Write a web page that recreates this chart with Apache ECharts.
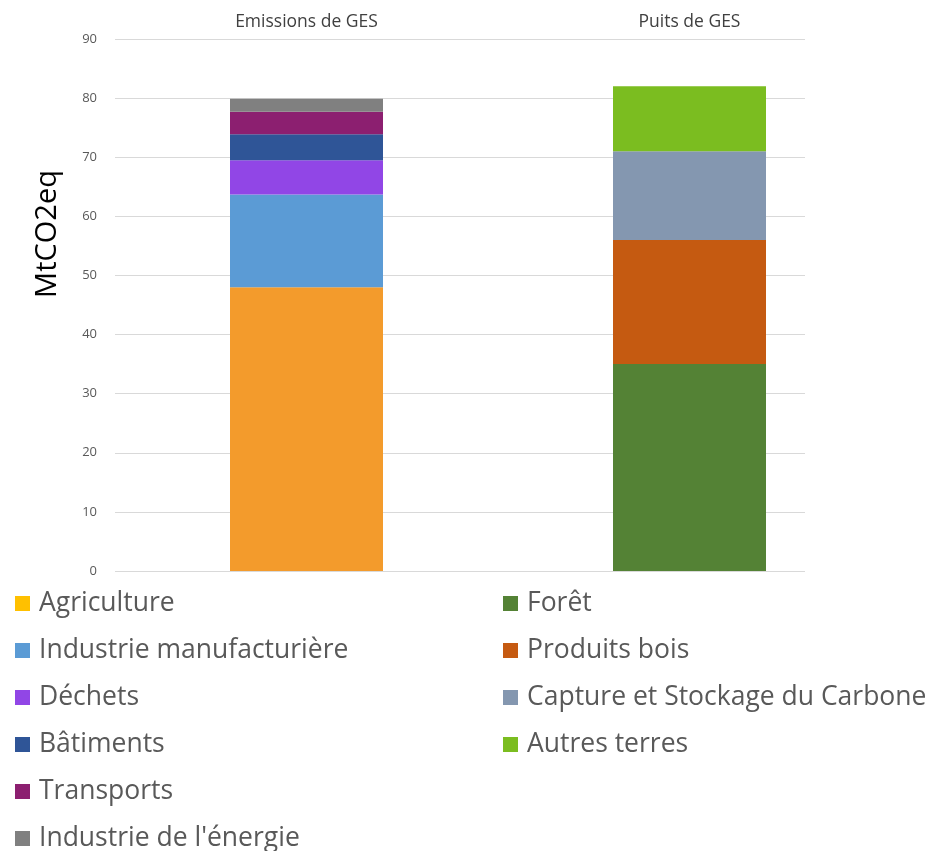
<!DOCTYPE html>
<html>
<head>
<meta charset="utf-8">
<script src="https://cdn.jsdelivr.net/npm/echarts@6/dist/echarts.min.js"></script>
<style>html,body{margin:0;padding:0;background:#fff;}#c{width:935px;height:851px;}</style>
</head>
<body>
<div id="c"></div>
<script>
const categories = ['Emissions de GES', 'Puits de GES'];
const yTicks = [0, 10, 20, 30, 40, 50, 60, 70, 80, 90];
const yAxisTitle = 'MtCO2eq';

const emissionNames = ['Agriculture', 'Industrie manufacturière', 'Déchets', 'Bâtiments', 'Transports', "Industrie de l'énergie"];
const emissionValues = [48, 15.7, 5.8, 4.4, 3.8, 2.2];
const emissionColors = ['#F39B2C', '#5B9BD5', '#9146E6', '#2F5597', '#8C1F70', '#808080'];
const emissionLegendColors = ['#FFC000', '#5B9BD5', '#9146E6', '#2F5597', '#8C1F70', '#808080'];

const sinkNames = ['Forêt', 'Produits bois', 'Capture et Stockage du Carbone', 'Autres terres'];
const sinkValues = [35, 21, 15, 11];
const sinkColors = ['#548235', '#C55A11', '#8497B0', '#7BBD20'];

const series = [];
emissionNames.forEach((n, i) => series.push({
  name: n, type: 'bar', stack: 'total', xAxisIndex: 0, yAxisIndex: 0, barWidth: 153,
  itemStyle: { color: emissionColors[i] }, data: [emissionValues[i], '-']
}));
sinkNames.forEach((n, i) => series.push({
  name: n, type: 'bar', stack: 'total', xAxisIndex: 0, yAxisIndex: 0, barWidth: 153,
  itemStyle: { color: sinkColors[i] }, data: ['-', sinkValues[i]]
}));

const legendText = { fontSize: 26.5, color: '#595959', fontFamily: 'Open Sans', lineHeight: 25, padding: [0, 0, 0, 4] };

const chart = echarts.init(document.getElementById('c'), null, { renderer: 'canvas' });
chart.setOption({
  backgroundColor: '#ffffff',
  animation: false,
  grid: [
    { left: 115, top: 39, width: 766, height: 532 },
    { left: 115, top: 39, width: 690, height: 532 }
  ],
  xAxis: [
    { type: 'category', gridIndex: 0, position: 'top', data: categories,
      axisLine: { show: false }, axisTick: { show: false },
      axisLabel: { margin: 8, fontSize: 17.5, color: '#404040', fontFamily: 'Open Sans' } },
    { type: 'value', gridIndex: 1, min: 0, max: 1, show: false }
  ],
  yAxis: [
    { type: 'value', gridIndex: 0, min: yTicks[0], max: yTicks[yTicks.length - 1], interval: 10,
      axisLine: { show: false }, axisTick: { show: false }, splitLine: { show: false },
      axisLabel: { margin: 18, fontSize: 13, color: '#595959', fontFamily: 'Open Sans' } },
    { type: 'value', gridIndex: 1, min: yTicks[0], max: yTicks[yTicks.length - 1], interval: 10,
      axisLine: { show: false }, axisTick: { show: false }, axisLabel: { show: false },
      splitLine: { show: true, lineStyle: { color: '#D9D9D9', width: 1 } } }
  ],
  legend: [
    { orient: 'vertical', left: 10, top: 585, height: 266, itemWidth: 15, itemHeight: 15, itemGap: 20,
      icon: 'rect', textStyle: legendText, selectedMode: false,
      data: emissionNames.map((n, i) => ({ name: n, itemStyle: { color: emissionLegendColors[i] } })) },
    { orient: 'vertical', left: 498, top: 585, height: 266, itemWidth: 15, itemHeight: 15, itemGap: 20,
      icon: 'rect', textStyle: legendText, selectedMode: false,
      data: sinkNames.map((n, i) => ({ name: n, itemStyle: { color: sinkColors[i] } })) }
  ],
  graphic: [
    { type: 'text', x: 48, y: 234, rotation: Math.PI / 2,
      style: { text: yAxisTitle, fontSize: 29, fill: '#000000', fontFamily: 'Open Sans',
               textAlign: 'center', textVerticalAlign: 'middle' } }
  ],
  series: series
});
</script>
</body>
</html>
